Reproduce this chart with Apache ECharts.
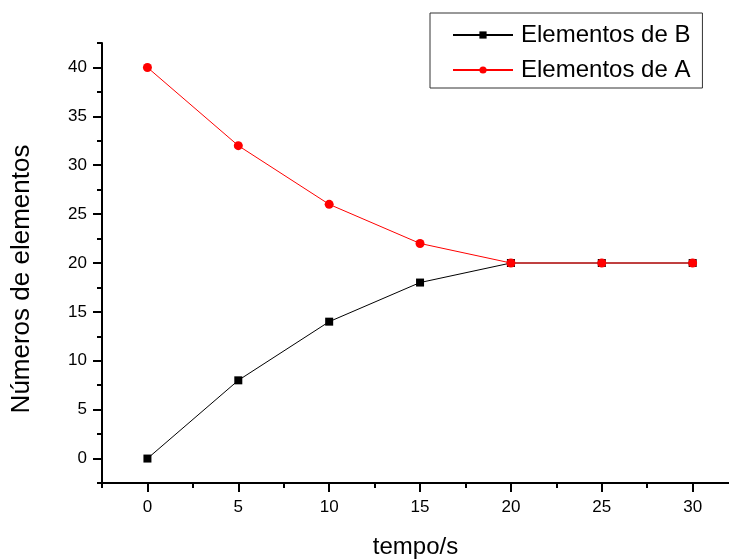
<!DOCTYPE html>
<html>
<head>
<meta charset="utf-8">
<script src="https://cdn.jsdelivr.net/npm/echarts@6/dist/echarts.min.js"></script>
<style>
  html, body { margin: 0; padding: 0; background: #fff; }
  #chart { width: 729px; height: 559px; }
</style>
</head>
<body>
<div id="chart"></div>
<script>
// dados
var tempo = [0, 5, 10, 15, 20, 25, 30];
var elementosB = [0, 8, 14, 18, 20, 20, 20];
var elementosA = [40, 32, 26, 22, 20, 20, 20];

var xTicks = [0, 5, 10, 15, 20, 25, 30];
var xMinor = [-2.5, 2.5, 7.5, 12.5, 17.5, 22.5, 27.5];
var yTicks = [0, 5, 10, 15, 20, 25, 30, 35, 40];
var yMinor = [-2.5, 2.5, 7.5, 12.5, 17.5, 22.5, 27.5, 32.5, 37.5, 42.5];

var fonte = 'Liberation Sans, Arial, sans-serif';
var chart = echarts.init(document.getElementById('chart'));

var pares = function(vals) {
  return tempo.map(function(t, i) { return [t, vals[i]]; });
};

chart.setOption({
  animation: false,
  grid: { left: 102, top: 43, right: 0, bottom: 76, containLabel: false, outerBoundsMode: 'none' },
  legend: {
    orient: 'vertical',
    left: 430,
    top: 13,
    padding: [10, 12, 6, 22],
    itemGap: 11,
    itemWidth: 60,
    itemHeight: 9,
    borderColor: '#333',
    borderWidth: 1,
    textStyle: { fontFamily: fonte, fontSize: 24, color: '#000', padding: [0, 0, 0, 3] },
    data: ['Elementos de B', 'Elementos de A']
  },
  xAxis: [{
    type: 'value',
    min: -2.5, max: 32,
    name: 'tempo/s',
    nameLocation: 'middle',
    nameGap: 52,
    nameTextStyle: { fontFamily: fonte, fontSize: 24, color: '#000' },
    splitLine: { show: false },
    axisLine: { show: true, onZero: false, lineStyle: { color: '#000', width: 2 } },
    axisTick: { show: true, length: 9, customValues: xTicks, lineStyle: { color: '#000', width: 2 } },
    axisLabel: { customValues: xTicks, margin: 16, fontFamily: fonte, fontSize: 17, color: '#000' }
  }, {
    type: 'value',
    min: -2.5, max: 32,
    position: 'bottom',
    splitLine: { show: false },
    axisLine: { show: false, onZero: false },
    axisTick: { show: true, length: 5, customValues: xMinor, lineStyle: { color: '#000', width: 2 } },
    axisLabel: { show: false }
  }],
  yAxis: [{
    type: 'value',
    min: -2.5, max: 42.5,
    name: 'Números de elementos',
    nameLocation: 'middle',
    nameGap: 67,
    nameTextStyle: { fontFamily: fonte, fontSize: 26, color: '#000', padding: [0, 32, 0, 0] },
    splitLine: { show: false },
    axisLine: { show: true, onZero: false, lineStyle: { color: '#000', width: 2 } },
    axisTick: { show: true, length: 9, customValues: yTicks, lineStyle: { color: '#000', width: 2 } },
    axisLabel: { customValues: yTicks, margin: 15, fontFamily: fonte, fontSize: 17, color: '#000' }
  }, {
    type: 'value',
    min: -2.5, max: 42.5,
    position: 'left',
    splitLine: { show: false },
    axisLine: { show: false, onZero: false },
    axisTick: { show: true, length: 5, customValues: yMinor, lineStyle: { color: '#000', width: 2 } },
    axisLabel: { show: false }
  }],
  series: [{
    name: 'Elementos de B',
    type: 'line',
    data: pares(elementosB),
    symbol: 'rect',
    symbolSize: 8,
    color: '#000',
    itemStyle: { color: '#000' },
    lineStyle: { color: '#000', width: 1 }
  }, {
    name: 'Elementos de A',
    type: 'line',
    data: pares(elementosA),
    symbol: 'circle',
    symbolSize: 9,
    color: '#ff0000',
    itemStyle: { color: '#ff0000' },
    lineStyle: { color: '#ff0000', width: 1 }
  }]
});
</script>
</body>
</html>
